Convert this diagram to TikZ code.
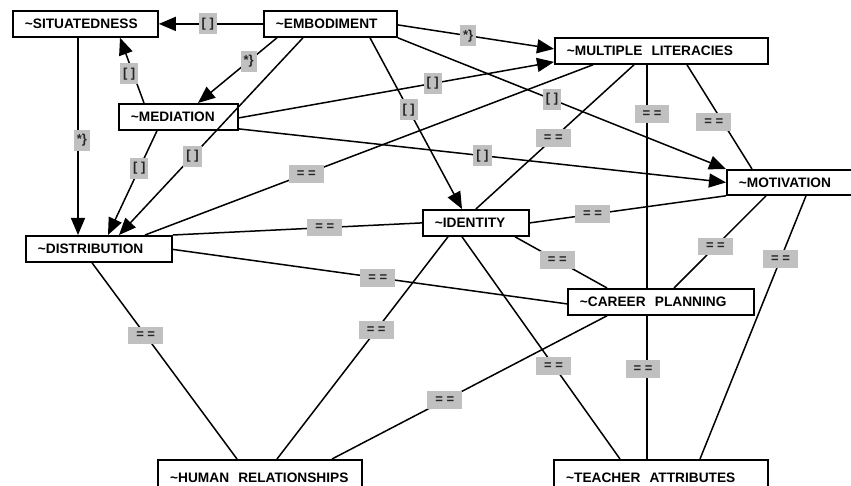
\documentclass[tikz,border=0pt]{standalone}
\usepackage{fontspec}
\newfontfamily\helv{Liberation Sans}
\usepackage{tikz}
\usetikzlibrary{arrows.meta}
\definecolor{lblgray}{RGB}{192,192,192}
\tikzset{every edge/.style={draw, line width=1.5pt}}
\tikzset{
  concept/.style={draw, fill=white, line width=1.8pt, anchor=north west, align=left,
    inner xsep=12pt, inner ysep=0pt, minimum height=26pt,
    font=\helv\bfseries\fontsize{13.7}{15}\selectfont},
  bottomconcept/.style={concept, line width=2.4pt, minimum height=36pt},
  lbl/.style={fill=lblgray, text=black!85, inner xsep=3pt, inner ysep=4.5pt,
    font=\helv\bfseries\fontsize{13}{15}\selectfont},
  eq/.style={lbl, inner xsep=8pt, inner ysep=5.5pt},
}

\begin{document}
\begin{tikzpicture}[x=1pt, y=-1pt, >={Triangle[length=17pt,width=14pt]}]
    \useasboundingbox (0,0) rectangle (851,486);
    \clip (0,0) rectangle (851,486);

    \node[concept, text width=121pt] at (12, 10) (SIT) {\textasciitilde SITUATEDNESS};
    \node[concept, text width=109pt] at (263, 10) (EMB) {\textasciitilde EMBODIMENT};
    \node[concept, text width=189pt] at (554, 37) (ML) {\textasciitilde MULTIPLE\ \ LITERACIES};
    \node[concept, text width=95pt] at (118, 103) (MED) {\textasciitilde MEDIATION};
    \node[concept, text width=116pt, minimum height=25pt] at (726, 169) (MOT) {\textasciitilde MOTIVATION};
    \node[concept, text width=82pt] at (422, 209) (IDENT) {\textasciitilde IDENTITY};
    \node[concept, text width=122pt] at (25, 235) (DIST) {\textasciitilde DISTRIBUTION};
    \node[concept, text width=162pt] at (567, 288) (CP) {\textasciitilde CAREER\ \ PLANNING};
    \node[bottomconcept, text width=180pt] at (157, 459) (HR) {\textasciitilde HUMAN\ \ RELATIONSHIPS};
    \node[bottomconcept, text width=190pt] at (553, 459) (TA) {\textasciitilde TEACHER\ \ ATTRIBUTES};

    % directed links
    \draw (EMB.west) edge[->] node[lbl, pos=0.53] {[ ]} (SIT.east);
    \draw ([xshift=14pt]EMB.south west) edge[->] node[lbl, pos=0.36] {*\}} ([xshift=80pt]MED.north west);
    \draw ([xshift=40pt]EMB.south west) edge[->] node[lbl, pos=0.6] {[ ]} ([xshift=94pt]DIST.north west);
    \draw ([xshift=26pt]MED.north west) edge[->] node[lbl, pos=0.45, xshift=-4pt] {[ ]} ([xshift=108pt]SIT.south west);
    \draw ([xshift=39pt]MED.south west) edge[->] node[lbl, pos=0.36] {[ ]} ([xshift=83pt]DIST.north west);
    \draw ([xshift=66pt]SIT.south west) edge[->] node[lbl, pos=0.52, xshift=4pt] {*\}} ([xshift=53pt]DIST.north west);
    \draw ([yshift=-1pt]MED.east) edge[->] node[lbl, pos=0.615] {[ ]} ([yshift=-11pt]ML.west);
    \draw ([yshift=-1pt]EMB.east) edge[->] node[lbl, pos=0.45] {*\}} ([yshift=2pt]ML.west);
    \draw (EMB.south east) edge[->] node[lbl, pos=0.47] {[ ]} (MOT.north west);
    \draw ([xshift=107pt]EMB.south west) edge[->] node[lbl, pos=0.42] {[ ]} ([xshift=40pt]IDENT.north west);
    \draw ([yshift=-12pt]MED.east) edge[->] node[lbl, pos=0.5] {[ ]} (MOT.west);

    % symmetric links
    \draw ([xshift=120pt]DIST.north west) edge node[eq, pos=0.36] {= =} ([xshift=39pt]ML.south west);
    \draw (IDENT.north) edge node[eq, pos=0.49] {= =} ([xshift=80pt]ML.south west);
    \draw ([xshift=93pt]ML.south west) edge node[eq, pos=0.22, xshift=5pt] {= =} ([xshift=80pt]CP.north west);
    \draw ([xshift=133pt]ML.south west) edge node[eq, pos=0.55, xshift=-9pt] {= =} ([xshift=26pt]MOT.north west);
    \draw (DIST.north east) edge node[eq, pos=0.61] {= =} (IDENT.west);
    \draw (IDENT.east) edge node[eq, pos=0.32] {= =} (MOT.south west);
    \draw ([xshift=93pt]IDENT.south west) edge node[eq, pos=0.46] {= =} ([xshift=40pt]CP.north west);
    \draw ([yshift=-0.5pt]DIST.east) edge node[eq, pos=0.52] {= =} ([yshift=-2pt]CP.west);
    \draw ([xshift=40pt]MOT.south west) edge node[eq, pos=0.55] {= =} ([xshift=107pt]CP.north west);
    \draw ([xshift=80pt]MOT.south west) edge node[eq, pos=0.24] {= =} ([xshift=147pt]TA.north west);
    \draw ([xshift=67pt]DIST.south west) edge node[eq, pos=0.37] {= =} ([xshift=80pt]HR.north west);
    \draw ([xshift=26pt]IDENT.south west) edge node[eq, pos=0.42] {= =} ([xshift=120pt]HR.north west);
    \draw ([xshift=40pt]CP.south west) edge node[eq, pos=0.59] {= =} ([xshift=175pt]HR.north west);
    \draw ([xshift=40pt]IDENT.south west) edge node[eq, pos=0.58] {= =} ([xshift=67pt]TA.north west);
    \draw ([xshift=80pt]CP.south west) edge node[eq, pos=0.37, xshift=-4pt] {= =} ([xshift=94pt]TA.north west);
\end{tikzpicture}
\end{document}
